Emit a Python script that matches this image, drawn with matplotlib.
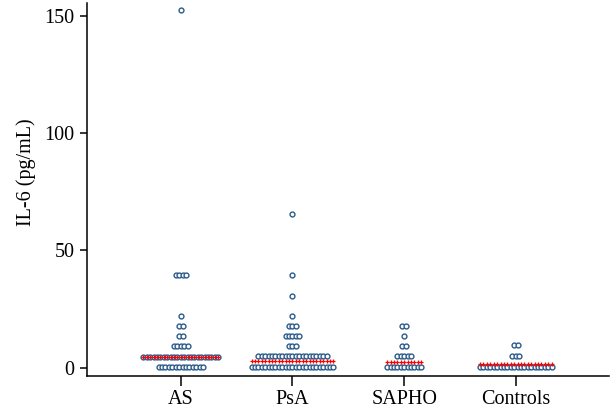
import numpy as np
import matplotlib
matplotlib.use("Agg")
import matplotlib.pyplot as plt

# ============================================================
# DATA (value of each dot row, dots in that row)
# ============================================================

groups = ["AS", "PsA", "SAPHO", "Controls"]

as_values = [152.4, 39.5, 22.0, 17.8, 13.5, 9.2, 4.7, 0.2]
as_counts = [1, 4, 1, 2, 2, 5, 23, 14]

psa_values = [65.4, 39.4, 30.7, 22.0, 17.8, 13.5, 9.2, 5.0, 0.4]
psa_counts = [1, 1, 1, 1, 3, 5, 3, 21, 25]

sapho_values = [17.8, 13.5, 9.2, 5.0, 0.3]
sapho_counts = [2, 1, 2, 5, 11]

ctrl_values = [9.7, 5.0, 0.4]
ctrl_counts = [2, 3, 22]

medians = [4.7, 3.0, 2.4, 1.4]

rows = [
    (as_values, as_counts),
    (psa_values, psa_counts),
    (sapho_values, sapho_counts),
    (ctrl_values, ctrl_counts),
]

# ============================================================
# STYLE
# ============================================================

plt.rcParams["font.family"] = ["Liberation Serif", "DejaVu Serif"]
plt.rcParams["font.size"] = 14.5

dot_color = "#2b5b8a"
step = 0.0305  # horizontal spacing of dots within a row (category units)

fig = plt.figure(figsize=(6.10, 4.12), dpi=100)
ax = fig.add_axes([0.1426, 0.0874, 0.855, 0.9053])

# ============================================================
# PLOT
# ============================================================

for i, (vals, counts) in enumerate(rows):
    xs, ys = [], []
    for v, n in zip(vals, counts):
        offs = (np.arange(n) - (n - 1) / 2) * step
        xs.extend(i + offs)
        ys.extend([v] * n)
    ax.plot(xs, ys, linestyle="none", marker="o", markersize=3.5,
            markerfacecolor="white", markeredgecolor=dot_color,
            markeredgewidth=1.0, zorder=3)

    # median drawn as a row of small red crosses as wide as the widest row
    n_wide = max(counts)
    offs = (np.arange(n_wide) - (n_wide - 1) / 2) * step
    ax.plot(i + offs, [medians[i]] * n_wide, linestyle="none", marker="+",
            markersize=3.4, markeredgewidth=0.9, color="red", zorder=4)

ax.set_xlim(-0.84, 3.83)
ax.set_ylim(-3.55, 155.4)
ax.set_xticks(range(len(groups)))
ax.set_xticklabels(groups)
ax.set_yticks([0, 50, 100, 150])
ax.set_ylabel("IL-6 (pg/mL)")
ax.yaxis.set_label_coords(-0.098, 0.547)

for side in ["top", "right"]:
    ax.spines[side].set_visible(False)
for side in ["left", "bottom"]:
    ax.spines[side].set_linewidth(1.1)
ax.tick_params(axis="y", length=5, width=1.1, pad=4)
ax.tick_params(axis="x", length=7, width=1.1, pad=3)

plt.savefig("out.png", dpi=100)
